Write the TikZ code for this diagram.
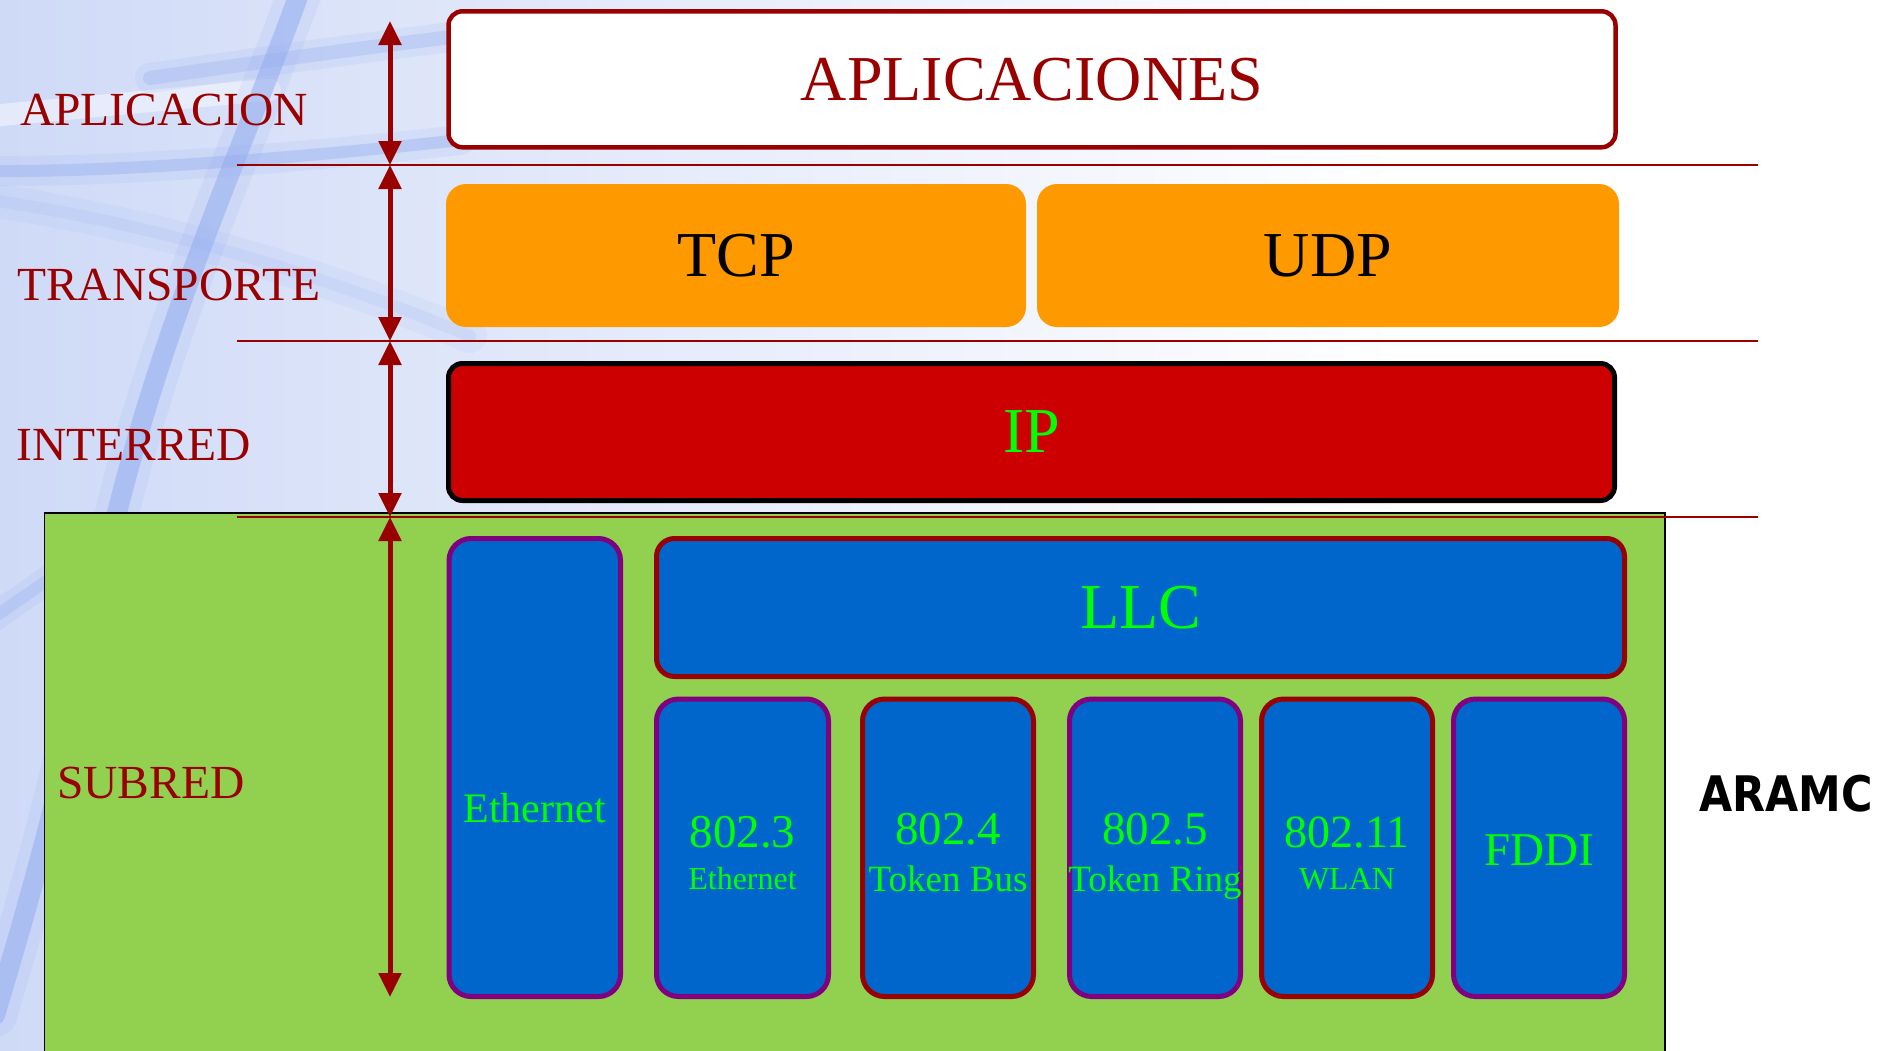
\documentclass[tikz,border=0pt]{standalone}
\usepackage{fontspec}
\usepackage{graphicx}
\setmainfont{Liberation Serif}
\newfontfamily\aramcfont{DejaVu Sans}
\usetikzlibrary{arrows.meta}
\definecolor{dred}{HTML}{990000}
\definecolor{orng}{HTML}{FF9900}
\definecolor{ipred}{HTML}{CC0000}
\definecolor{lgreen}{HTML}{00FF00}
\definecolor{bblue}{HTML}{0066CC}
\definecolor{subgreen}{HTML}{92D050}
\definecolor{purp}{HTML}{800080}
\definecolor{bgA}{HTML}{CFDAF7}
\definecolor{bandblue}{HTML}{94ADF0}
\tikzset{
  toplayer/.style={draw=dred, fill=white, rounded corners=14pt, line width=4.5pt, inner sep=0pt, text=dred},
  transbox/.style={fill=orng, rounded corners=20pt, inner sep=0pt, text=black},
  ipbox/.style={draw=black, fill=ipred, rounded corners=14pt, line width=5pt, inner sep=0pt, text=lgreen},
  lanbox/.style={fill=bblue, rounded corners=22pt, line width=5pt, inner sep=0pt},
  pedge/.style={draw=purp},
  redge/.style={draw=dred},
  lantext/.style={text=lgreen, anchor=base, inner sep=0pt},
  layerlabel/.style={text=dred, anchor=base west, inner sep=0pt, font=\fontsize{47.5}{50}\selectfont},
  sepline/.style={draw=dred, line width=2.5pt},
  layerspan/.style={draw=dred, line width=5pt, {Triangle[length=24pt,width=22pt]}-{Triangle[length=24pt,width=22pt]}},
  bigfont/.style={font=\fontsize{64}{66}\selectfont},
  softband/.style={bandblue, line width=#1, opacity=0.14, line cap=round},
  coreband/.style={bandblue, line width=#1, opacity=0.4, line cap=round},
}
\begin{document}
\begin{tikzpicture}[x=1pt,y=-1pt]
\useasboundingbox (0,0) rectangle (1882,1050);
% background
\begin{scope}
\clip (0,0) rectangle (1882,1050);
\shade[left color=bgA, right color=white] (0,0) rectangle (1400,1050);
\fill[white] (1400,0) rectangle (1882,1050);
% white highlight
\draw[white, line width=22pt, opacity=0.45, line cap=round] (-10,116) .. controls (100,106) and (200,96) .. (270,90);
% faint lower band
\draw[softband=34pt, opacity=0.1] (-10,200) .. controls (130,220) and (300,265) .. (470,336);
\draw[coreband=12pt, opacity=0.14] (-10,200) .. controls (130,220) and (300,265) .. (470,336);
% upper right band
\draw[softband=30pt] (150,78) .. controls (260,62) and (360,48) .. (460,36);
\draw[coreband=14pt, opacity=0.3] (150,78) .. controls (260,62) and (360,48) .. (460,36);
% band along first separator
\draw[softband=30pt] (-10,171) .. controls (120,172) and (300,158) .. (460,140);
\draw[coreband=12pt] (-10,171) .. controls (120,172) and (300,158) .. (460,140);
% main vertical band
\draw[softband=44pt] (304,-20) .. controls (255,120) and (170,300) .. (117,513) .. controls (85,680) and (60,800) .. (-5,1015);
\draw[coreband=20pt, opacity=0.55] (304,-20) .. controls (255,120) and (170,300) .. (117,513) .. controls (85,680) and (60,800) .. (-5,1015);
% left strip band
\draw[softband=28pt] (-10,620) -- (55,575);
\draw[coreband=12pt, opacity=0.3] (-10,620) -- (55,575);
\end{scope}
% subnet area
\draw[fill=subgreen, line width=1.5pt] (44.6,513) rectangle (1665,1053);
% separators
\coordinate (s1a) at (237,165); \coordinate (s1b) at (1758,165);
\coordinate (s2a) at (237,341); \coordinate (s2b) at (1758,341);
\coordinate (s3a) at (237,517); \coordinate (s3b) at (1758,517);
\draw[sepline] (s1a) -- (s1b);
\draw[sepline] (s2a) -- (s2b);
\draw[sepline] (s3a) -- (s3b);
% layer spans
\coordinate (a0) at (390,21);
\coordinate (a1) at (390,165);
\coordinate (a2) at (390,341);
\coordinate (a3) at (390,517);
\coordinate (a4) at (390,997);
\draw[layerspan] (a0) -- (a1);
\draw[layerspan] (a1) -- (a2);
\draw[layerspan] (a2) -- (a3);
\draw[layerspan] (a3) -- (a4);
% labels
\node[layerlabel] (lapl) at (20,125) {APLICACION};
\node[layerlabel] (ltra) at (17,300) {TRANSPORTE};
\node[layerlabel] (lint) at (16,460) {INTERRED};
\node[layerlabel] (lsub) at (57,798) {SUBRED};
% top layers
\node[toplayer, bigfont, minimum width=1167pt, minimum height=136pt] (apl) at (1032,79.3) {APLICACIONES};
\node[transbox, bigfont, minimum width=580pt, minimum height=143pt] (tcp) at (736,255.5) {TCP};
\node[transbox, bigfont, minimum width=582pt, minimum height=143pt] (udp) at (1328,255.5) {UDP};
\node[ipbox, bigfont, minimum width=1166pt, minimum height=137pt] (ip) at (1031.5,432) {IP};
% subnet boxes
\node[lanbox, pedge, minimum width=171.5pt, minimum height=458pt] (eth) at (534.75,767.5) {};
\node[lanbox, redge, rounded corners=18pt, minimum width=968pt, minimum height=138pt, text=lgreen, bigfont] (llc) at (1140.5,607.5) {LLC};
\node[lanbox, pedge, minimum width=172pt, minimum height=297.5pt] (b3) at (742.5,847.75) {};
\node[lanbox, redge, minimum width=171pt, minimum height=297.5pt] (b4) at (948,847.75) {};
\node[lanbox, pedge, minimum width=171pt, minimum height=297.5pt] (b5) at (1155,847.75) {};
\node[lanbox, redge, minimum width=171pt, minimum height=297.5pt] (b11) at (1347,847.75) {};
\node[lanbox, pedge, minimum width=171pt, minimum height=297.5pt] (bf) at (1539,847.75) {};
% subnet texts
\node[lantext, font=\fontsize{42}{44}\selectfont] (teth) at (534.75,822) {Ethernet};
\node[lantext, font=\fontsize{47}{48}\selectfont] (t3) at (742.5,847) {802.3};
\node[lantext, font=\fontsize{32}{34}\selectfont] (t3b) at (742.5,889) {Ethernet};
\node[lantext, font=\fontsize{47}{48}\selectfont] (t4) at (948,844) {802.4};
\node[lantext, font=\fontsize{37}{38}\selectfont] (t4b) at (948,891) {Token Bus};
\node[lantext, font=\fontsize{47}{48}\selectfont] (t5) at (1155,844) {802.5};
\node[lantext, font=\fontsize{37}{38}\selectfont] (t5b) at (1155,891) {Token Ring};
\node[lantext, font=\fontsize{46}{48}\selectfont] (t11) at (1347,847) {802.11};
\node[lantext, font=\fontsize{32}{34}\selectfont] (t11b) at (1347,889) {WLAN};
\node[lantext, font=\fontsize{47}{48}\selectfont] (tf) at (1539,865) {FDDI};
% side label
\node[anchor=base west, inner sep=0pt] (aramc) at (1699,811) {\aramcfont\bfseries\fontsize{49}{50}\selectfont\scalebox{0.875}[1]{ARAMC}};
\end{tikzpicture}
\end{document}
